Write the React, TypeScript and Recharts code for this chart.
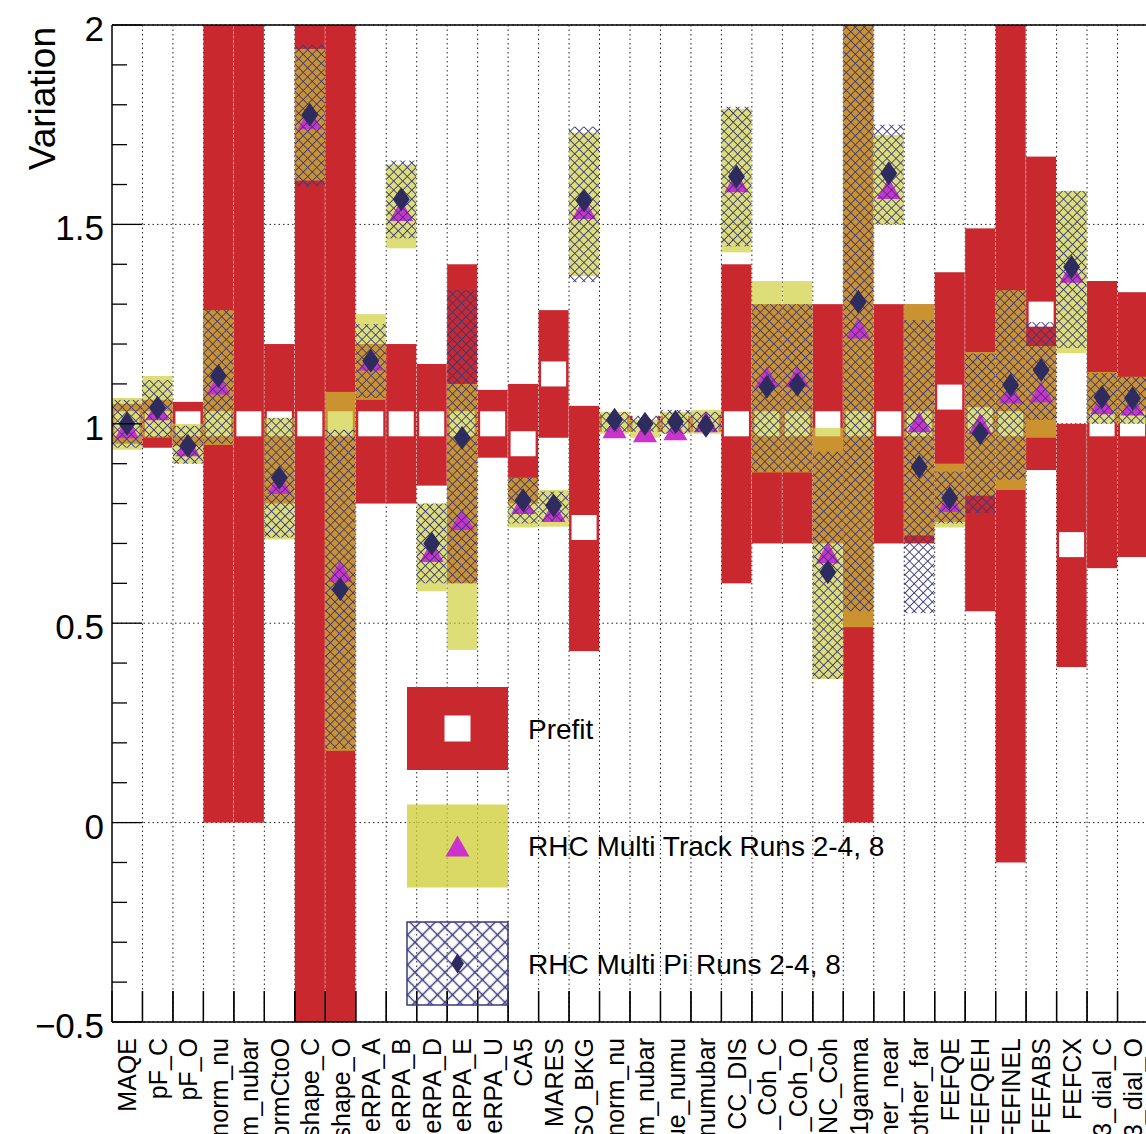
import React from "react";
import {
  ComposedChart,
  Bar,
  XAxis,
  YAxis,
  CartesianGrid,
  ReferenceLine,
  Legend,
} from "recharts";

// parameter names (only the part that shows inside the picture)
const categories = [
  "MAQE", "pF_C", "pF_O", "norm_nu", "m_nubar", "ormCtoO", "shape_C", "shape_O",
  "eRPA_A", "eRPA_B", "eRPA_D", "eRPA_E", "eRPA_U", "CA5", "MARES", "SO_BKG",
  "norm_nu", "m_nubar", "ue_numu", "numubar", "CC_DIS", "_Coh_C", "_Coh_O", "NC_Coh",
  "1gamma", "ner_near", "other_far", "FEFQE", "FEFQEH", "FEFINEL", "FEFABS", "FEFCX",
  "3_dial_C", "3_dial_O",
];

// prefit band (red) and central value (white square)
const prefitLow = [
  0.95, 0.94, 0.945, 0, 0, 0.8, -1, -1, 0.8, 0.8, 0.845, 0.6, 0.915, 0.8, 0.965, 0.43,
  0.98, 0.98, 0.98, 0.98, 0.6, 0.7, 0.7, 0.7, 0, 0.7, 0.7, 0.754, 0.53, -0.1, 0.884, 0.39,
  0.638, 0.666,
];
const prefitHigh = [
  1.05, 1.06, 1.055, 2, 2, 1.2, 3, 3, 1.2, 1.2, 1.15, 1.4, 1.085, 1.1, 1.285, 1.045,
  1.02, 1.02, 1.02, 1.02, 1.4, 1.3, 1.3, 1.3, 2, 1.3, 1.3, 1.38, 1.49, 2.1, 1.67, 1.0,
  1.358, 1.33,
];
const prefitVal = [
  1, 1, 1, 1, 1, 1, 1, 1, 1, 1, 1, 1, 1, 0.95, 1.125, 0.74,
  1, 1, 1, 1, 1, 1, 1, 1, 1, 1, 1, 1.067, 1.01, 1, 1.275, 0.697,
  1, 1,
];

// RHC Multi Track Runs 2-4, 8
const trackLow = [
  0.935, 0.965, 0.9, 0.947, null, 0.71, 1.61, 0.18, 1.06, 1.44, 0.58, 0.433, null, 0.74, 0.742, 1.37,
  0.975, 0.965, 0.975, 0.975, 1.43, 0.878, 0.878, 0.36, 0.49, 1.5, 0.72, 0.74, 0.82, 0.834, 0.965, 1.177,
  1.0, 1.0,
];
const trackHigh = [
  1.065, 1.12, 1.0, 1.285, null, 1.015, 1.94, 1.08, 1.275, 1.65, 0.8, 1.1, null, 0.865, 0.834, 1.73,
  1.03, 1.01, 1.03, 1.035, 1.79, 1.358, 1.358, 0.99, 2.0, 1.724, 1.3, 0.9, 1.18, 1.335, 1.195, 1.584,
  1.13, 1.118,
];
const trackVal = [
  0.99, 1.035, 0.945, 1.1, null, 0.85, 1.765, 0.63, 1.16, 1.535, 0.68, 0.76, null, 0.8, 0.78, 1.54,
  0.99, 0.98, 0.985, 1.005, 1.607, 1.118, 1.118, 0.676, 1.24, 1.59, 1.005, 0.805, 1.0, 1.077, 1.08, 1.38,
  1.05, 1.047,
];

// RHC Multi Pi Runs 2-4, 8
const piLow = [
  0.94, 0.965, 0.9, 0.95, null, 0.715, 1.595, 0.185, 1.065, 1.465, 0.6, 0.6, null, 0.75, 0.755, 1.355,
  0.98, 0.98, 0.975, 0.98, 1.445, 0.88, 0.88, 0.36, 0.53, 1.5, 0.525, 0.75, 0.776, 0.86, 1.01, 1.19,
  1.0, 1.0,
];
const piHigh = [
  1.06, 1.11, 0.995, 1.285, null, 1.015, 1.95, 0.985, 1.25, 1.66, 0.8, 1.335, null, 0.865, 0.83, 1.745,
  1.03, 1.02, 1.035, 1.03, 1.795, 1.3, 1.3, 0.93, 2.08, 1.75, 1.26, 0.88, 1.176, 1.335, 1.255, 1.584,
  1.127, 1.118,
];
const piVal = [
  1.0, 1.04, 0.945, 1.12, null, 0.865, 1.775, 0.585, 1.158, 1.563, 0.7, 0.965, null, 0.808, 0.795, 1.56,
  1.01, 1.0, 1.005, 0.995, 1.62, 1.093, 1.098, 0.628, 1.306, 1.628, 0.892, 0.814, 0.976, 1.097, 1.135, 1.393,
  1.067, 1.064,
];

const yTicks = [
  -0.5, -0.4, -0.3, -0.2, -0.1, 0, 0.1, 0.2, 0.3, 0.4, 0.5, 0.6, 0.7, 0.8, 0.9,
  1, 1.1, 1.2, 1.3, 1.4, 1.5, 1.6, 1.7, 1.8, 1.9, 2,
];
const yMajorTicks = [-0.5, 0, 0.5, 1, 1.5, 2];

const Y_MIN = -0.5;
const Y_MAX = 2;

const CHART_W = 1160;
const CHART_H = 1134;
const MARGIN = { top: 25, right: 12, bottom: 0, left: 0 };
const Y_AXIS_W = 112;
const X_AXIS_H = 112;
const BIN_W = (CHART_W - MARGIN.right - MARGIN.left - Y_AXIS_W) / categories.length;

const FONT = "'Liberation Sans', Arial, Helvetica, sans-serif";
const RED = "#c8282e";
const YELLOW = "#cccc30";
const MAGENTA = "#cc33cc";
const NAVY = "#2e2b5f";
const HATCH = "#3a3a7c";

const data = categories.map((name, i) => ({
  name,
  prefit: [prefitLow[i], prefitHigh[i]],
  prefitVal: prefitVal[i],
  track: trackLow[i] == null ? null : [trackLow[i], trackHigh[i]],
  trackVal: trackVal[i],
  pi: piLow[i] == null ? null : [piLow[i], piHigh[i]],
  piVal: piVal[i],
}));

const whiteSquare = (cx: number, cy: number, s = 25) => (
  <rect x={cx - s / 2} y={cy - s / 2} width={s} height={s} fill="#ffffff" />
);
const triangle = (cx: number, cy: number) => (
  <polygon
    points={`${cx - 12},${cy + 10.5} ${cx + 12},${cy + 10.5} ${cx},${cy - 10.5}`}
    fill={MAGENTA}
  />
);
const diamond = (cx: number, cy: number, w = 17, h = 24) => (
  <polygon
    points={`${cx},${cy - h / 2} ${cx + w / 2},${cy} ${cx},${cy + h / 2} ${cx - w / 2},${cy}`}
    fill={NAVY}
  />
);

// draws the band and the marker for its central value
const bandShape =
  (
    key: "prefit" | "track" | "pi",
    fill: string,
    opacity: number,
    marker: (cx: number, cy: number) => React.ReactNode
  ) =>
  (props: any) => {
    const { x, y, width, height, payload } = props;
    const range = payload && payload[key];
    if (!range || ![x, y, width, height].every((v) => Number.isFinite(v))) return <g />;
    const [lo, hi] = range;
    const top = Math.min(y, y + height);
    const h = Math.abs(height);
    const cy = top + (h * (hi - payload[key + "Val"])) / (hi - lo);
    return (
      <g>
        <rect x={x} y={top} width={width} height={h} fill={fill} fillOpacity={opacity} />
        {marker(x + width / 2, cy)}
      </g>
    );
  };

const YTick = ({ x, y, payload }: any) => {
  const v = payload.value;
  const major = yMajorTicks.includes(v);
  return (
    <g>
      <line x1={x} x2={x + (major ? 30 : 15)} y1={y} y2={y} stroke="#000" strokeWidth={1.3} />
      {major && (
        <text x={x - 8} y={y} dy={16} textAnchor="end" fontSize={35} fontFamily={FONT} fill="#000">
          {v < 0 ? "\u2212" + Math.abs(v) : String(v)}
        </text>
      )}
    </g>
  );
};

const XTick = ({ x, y, payload }: any) => (
  <g>
    <line x1={x - BIN_W / 2} x2={x - BIN_W / 2} y1={y} y2={y - 31} stroke="#000" strokeWidth={1.3} />
    <line x1={x + BIN_W / 2} x2={x + BIN_W / 2} y1={y} y2={y - 31} stroke="#000" strokeWidth={1.3} />
    <text
      x={x}
      y={y + 16}
      dy={9}
      transform={`rotate(-90, ${x}, ${y + 16})`}
      textAnchor="end"
      fontSize={25}
      fontFamily={FONT}
      fill="#000"
    >
      {payload.value}
    </text>
  </g>
);

const legendItems = [
  { label: "Prefit", kind: "prefit" },
  { label: "RHC Multi Track Runs 2-4, 8", kind: "track" },
  { label: "RHC Multi Pi Runs 2-4, 8", kind: "pi" },
];

const renderLegend = () => (
  <svg width={560} height={330} style={{ overflow: "visible", display: "block" }}>
    {legendItems.map((item, i) => {
      const top = 7 + i * 117.5;
      const cx = 57.5;
      const cy = top + 41.5;
      return (
        <g key={item.kind}>
          {item.kind === "prefit" && (
            <>
              <rect x={7} y={top} width={101} height={83} fill={RED} />
              {whiteSquare(cx, cy, 26)}
            </>
          )}
          {item.kind === "track" && (
            <>
              <rect x={7} y={top} width={101} height={83} fill={YELLOW} fillOpacity={0.75} />
              {triangle(cx, cy)}
            </>
          )}
          {item.kind === "pi" && (
            <>
              <rect x={7} y={top} width={101} height={83} fill="url(#piHatchBig)" stroke={HATCH} strokeWidth={1.5} />
              {diamond(cx, cy, 13, 20)}
            </>
          )}
          <text x={128} y={cy} dy={10} fontSize={28} fontFamily={FONT} fill="#000">
            {item.label}
          </text>
        </g>
      );
    })}
  </svg>
);

const Patterns = () => (
  <svg width={0} height={0} style={{ position: "absolute" }}>
    <defs>
      <pattern id="piHatch" width={6.4} height={6.4} patternUnits="userSpaceOnUse" patternTransform="rotate(45)">
        <path d="M0 3.2H6.4M3.2 0V6.4" stroke={HATCH} strokeWidth={0.9} />
      </pattern>
      <pattern id="piHatchBig" width={10.6} height={10.6} patternUnits="userSpaceOnUse" patternTransform="rotate(45)">
        <path d="M0 5.3H10.6M5.3 0V10.6" stroke={HATCH} strokeWidth={1.5} />
      </pattern>
    </defs>
  </svg>
);

export default function App() {
  return (
    <div
      style={{
        position: "fixed",
        left: 0,
        top: 0,
        width: 1146,
        height: 1134,
        overflow: "hidden",
        background: "#ffffff",
        fontFamily: FONT,
      }}
    >
      <Patterns />
      <ComposedChart
        width={CHART_W}
        height={CHART_H}
        data={data}
        margin={MARGIN}
        barCategoryGap={0}
        barGap={0}
      >
        <CartesianGrid
          xAxisId="cat"
          stroke="#222"
          strokeDasharray="1.5 3"
          verticalCoordinatesGenerator={({ offset }: any) => {
            const left = offset?.left ?? Y_AXIS_W;
            return categories.map((_, i) => left + (i + 1) * BIN_W);
          }}
          horizontalCoordinatesGenerator={({ offset }: any) => {
            const top = offset?.top ?? MARGIN.top;
            const h = offset?.height ?? CHART_H - MARGIN.top - X_AXIS_H;
            return yMajorTicks.map((v) => top + ((Y_MAX - v) / (Y_MAX - Y_MIN)) * h);
          }}
        />
        <XAxis
          xAxisId="cat"
          dataKey="name"
          height={X_AXIS_H}
          interval={0}
          tickSize={0}
          tickMargin={0}
          tickLine={false}
          axisLine={{ stroke: "#000", strokeWidth: 1.5 }}
          tick={(p: any) => <XTick {...p} />}
        />
        <XAxis xAxisId="trk" dataKey="name" hide />
        <XAxis xAxisId="pi" dataKey="name" hide />
        <YAxis
          type="number"
          domain={[Y_MIN, Y_MAX]}
          allowDataOverflow
          ticks={yTicks}
          interval={0}
          width={Y_AXIS_W}
          tickSize={0}
          tickMargin={0}
          tickLine={false}
          axisLine={{ stroke: "#000", strokeWidth: 1.5 }}
          tick={(p: any) => <YTick {...p} />}
          label={() => (
            <text
              x={55}
              y={27}
              transform="rotate(-90, 55, 27)"
              textAnchor="end"
              fontSize={37}
              fontFamily={FONT}
              fill="#000"
            >
              Variation
            </text>
          )}
        />
        <Bar
          xAxisId="cat"
          dataKey="prefit"
          name="Prefit"
          fill={RED}
          isAnimationActive={false}
          shape={bandShape("prefit", RED, 1, (cx, cy) => whiteSquare(cx, cy))}
        />
        <Bar
          xAxisId="trk"
          dataKey="track"
          name="RHC Multi Track Runs 2-4, 8"
          fill={YELLOW}
          isAnimationActive={false}
          shape={bandShape("track", YELLOW, 0.65, triangle)}
        />
        <Bar
          xAxisId="pi"
          dataKey="pi"
          name="RHC Multi Pi Runs 2-4, 8"
          fill={HATCH}
          isAnimationActive={false}
          shape={bandShape("pi", "url(#piHatch)", 1, (cx, cy) => diamond(cx, cy))}
        />
        <ReferenceLine xAxisId="cat" y={Y_MAX} stroke="#000" strokeWidth={1.5} ifOverflow="visible" />
        <Legend
          layout="vertical"
          align="center"
          verticalAlign="middle"
          wrapperStyle={{ left: 400, top: 680, width: 560, height: 330 }}
          content={renderLegend}
        />
      </ComposedChart>
    </div>
  );
}
